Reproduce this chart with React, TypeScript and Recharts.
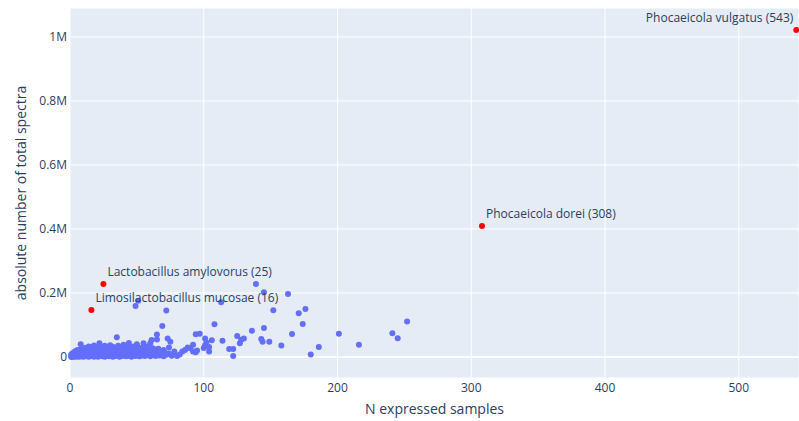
import React from 'react';
import { ScatterChart, Scatter, XAxis, YAxis, CartesianGrid, ReferenceLine, Label } from 'recharts';

// [N expressed samples, total spectra in thousands]
const bluePoints: [number, number][] = [
  [1, 0.3], [1, 2], [1, 5], [1, 9], [2, 1], [2, 4], [2, 12], [3, 0.5], [3, 7], [3, 15],
  [4, 2], [4, 10], [4, 18], [5, 1], [5, 6], [5, 14], [5, 20], [6, 3], [6, 11], [6, 22],
  [7, 0.8], [7, 9], [7, 17], [8, 4], [8, 13], [8, 24], [8, 40], [9, 2], [9, 19],
  [10, 1], [10, 8], [10, 16], [10, 27], [11, 5], [11, 22], [12, 2], [12, 12], [12, 29],
  [13, 7], [13, 18], [14, 1], [14, 24], [14, 33], [15, 10], [15, 20], [16, 3], [16, 14], [16, 28],
  [17, 6], [17, 31], [18, 1], [18, 18], [18, 36], [19, 9], [19, 24], [20, 4], [20, 15], [20, 30],
  [21, 1], [21, 21], [22, 7], [22, 27], [22, 43], [23, 12], [23, 33], [24, 2], [24, 19],
  [25, 8], [25, 29], [26, 1], [26, 14], [26, 35], [27, 5], [27, 23], [28, 10], [28, 31],
  [29, 2], [29, 18], [30, 6], [30, 26], [30, 37], [31, 12], [32, 1], [32, 21], [32, 32],
  [33, 8], [33, 16], [34, 3], [34, 28], [35, 11], [35, 62], [36, 5], [36, 22], [36, 35],
  [37, 1], [37, 15], [38, 9], [38, 30], [39, 3], [39, 19], [40, 7], [40, 25], [40, 38],
  [41, 12], [42, 2], [42, 20], [42, 31], [43, 8], [44, 4], [44, 16], [44, 44], [45, 10], [45, 27],
  [46, 1], [46, 21], [47, 6], [47, 33], [48, 13], [48, 24], [49, 3], [49, 18], [50, 8], [50, 40],
  [51, 14], [51, 28], [52, 2], [52, 22], [53, 9], [54, 5], [54, 17], [54, 30], [55, 11], [55, 43],
  [56, 3], [56, 24], [57, 15], [58, 7], [58, 32], [59, 19], [60, 2], [60, 12], [60, 43],
  [61, 6], [61, 53], [62, 16], [62, 27], [63, 9], [64, 3], [64, 21], [65, 12], [65, 55], [65, 70],
  [66, 26], [67, 5], [67, 17], [68, 10], [69, 97], [70, 2], [70, 22], [71, 13], [72, 7], [72, 145],
  [73, 58], [74, 11], [74, 30], [75, 48], [76, 4], [78, 17], [80, 3], [82, 8], [84, 17],
  [86, 22], [88, 30], [90, 27], [92, 38], [92, 17], [94, 15], [95, 20], [94, 71], [97, 73],
  [100, 28], [101, 37], [101, 58], [102, 45], [104, 31], [104, 17], [106, 52], [108, 102],
  [113, 171], [114, 51], [119, 25], [122, 25], [122, 3], [125, 66], [127, 43], [128, 54], [130, 58],
  [136, 82], [139, 228], [143, 56], [144, 48], [145, 91], [145, 202], [149, 48], [152, 146],
  [158, 36], [163, 197], [166, 72], [171, 137], [174, 103], [176, 150], [180, 8], [186, 31],
  [201, 73], [216, 38], [241, 74], [245, 59], [252, 111], [49, 159], [51, 176],
];

const highlightSamples = [16, 25, 308, 543];
const highlightSpectra = [147000, 228000, 409000, 1022000];
const highlightNames = [
  'Limosilactobacillus mucosae (16)',
  'Lactobacillus amylovorus (25)',
  'Phocaeicola dorei (308)',
  'Phocaeicola vulgatus (543)',
];

const xTicks = [0, 100, 200, 300, 400, 500];
const yTicks = [0, 200000, 400000, 600000, 800000, 1000000];

const blueData = bluePoints.map(([x, y]) => ({ x, y: y * 1000 }));
const redData = highlightSamples.map((x, i) => ({ x, y: highlightSpectra[i], label: highlightNames[i] }));

const FONT = '"Open Sans", verdana, arial, sans-serif';
const TEXT = '#2a3f5f';

const fmtY = (v: number) => (v === 0 ? '0' : v === 1000000 ? '1M' : `${v / 1000000}M`);

const XTick = (props: any) => (
  <text x={props.x} y={props.y + 14} textAnchor="middle" fill={TEXT} fontSize={12} fontFamily={FONT}>
    {props.payload.value}
  </text>
);
const YTick = (props: any) => (
  <text x={props.x - 3} y={props.y + 4} textAnchor="end" fill={TEXT} fontSize={12} fontFamily={FONT}>
    {fmtY(props.payload.value)}
  </text>
);

const BlueDot = (props: any) => <circle cx={props.cx} cy={props.cy} r={3} fill="#636efa" />;
const RedDot = (props: any) => {
  const end = props.payload.x > 500;
  return (
    <g>
      <circle cx={props.cx} cy={props.cy} r={3} fill="#ff0000" />
      <text
        x={end ? props.cx - 3 : props.cx + 4}
        y={props.cy - 8}
        textAnchor={end ? 'end' : 'start'}
        fill={TEXT}
        fontSize={12}
        fontFamily={FONT}
      >
        {props.payload.label}
      </text>
    </g>
  );
};

export default function App() {
  return (
    <div style={{ position: 'absolute', left: 0, top: 0, width: 799, height: 421, background: '#fff' }}>
      <ScatterChart width={799} height={421} margin={{ top: 8, right: 0, bottom: 0, left: 0 }}>
        <CartesianGrid fill="#E5ECF6" fillOpacity={1} stroke="#ffffff" strokeWidth={1} />
        <XAxis
          type="number"
          dataKey="x"
          domain={[0, 545]}
          ticks={xTicks}
          height={43}
          axisLine={false}
          tickLine={false}
          tickSize={0}
          tickMargin={0}
          tick={<XTick />}
          interval={0}
        >
          <Label
            content={() => (
              <text x={434.5} y={414} textAnchor="middle" fill={TEXT} fontSize={14} fontFamily={FONT}>
                N expressed samples
              </text>
            )}
          />
        </XAxis>
        <YAxis
          type="number"
          dataKey="y"
          domain={[-65600, 1090600]}
          ticks={yTicks}
          width={70}
          axisLine={false}
          tickLine={false}
          tickSize={0}
          tickMargin={0}
          tick={<YTick />}
          interval={0}
          allowDataOverflow
        >
          <Label
            content={() => (
              <text transform="translate(26,193) rotate(-90)" textAnchor="middle" fill={TEXT} fontSize={14} fontFamily={FONT}>
                absolute number of total spectra
              </text>
            )}
          />
        </YAxis>
        <ReferenceLine y={0} stroke="#ffffff" strokeWidth={2} />
        <Scatter data={blueData} shape={<BlueDot />} isAnimationActive={false} />
        <Scatter data={redData} shape={<RedDot />} isAnimationActive={false} />
      </ScatterChart>
    </div>
  );
}
